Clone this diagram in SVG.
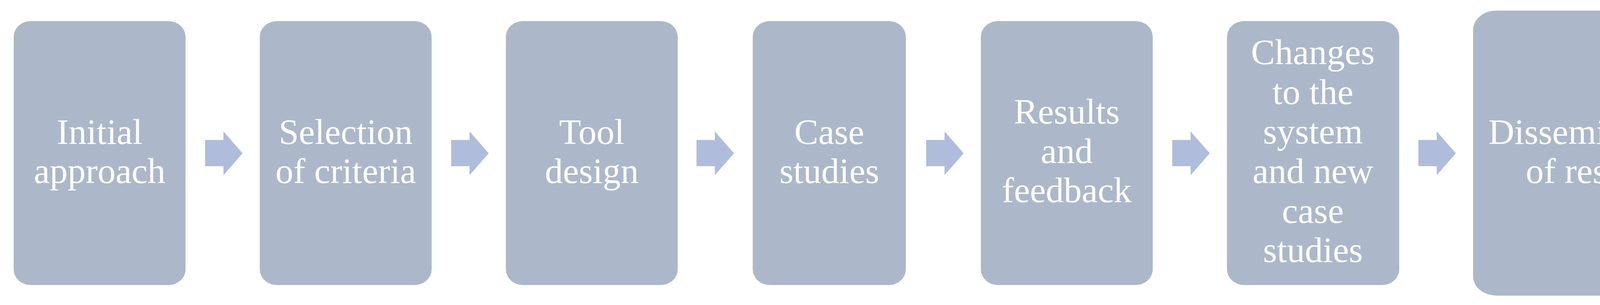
<svg xmlns="http://www.w3.org/2000/svg" width="4411" height="780" viewBox="0 0 4411 780">
<style>
.box{fill:#ACB8C9}
.arr{fill:#AFBCDC}
text{font-family:"Liberation Serif",serif;font-size:92px;fill:#fff;text-anchor:middle}
</style>
<rect width="4411" height="780" fill="#fff"/>
<g id="connectors">
<path class="arr" d="M525,358H572V336L621,392L572,448V425H525Z"/>
<path class="arr" d="M1155,358H1202V336L1251,392L1202,448V425H1155Z"/>
<path class="arr" d="M1783,358H1830V336L1879,392L1830,448V425H1783Z"/>
<path class="arr" d="M2371,358H2418V336L2467,392L2418,448V425H2371Z"/>
<path class="arr" d="M3001,358H3048V336L3097,392L3048,448V425H3001Z"/>
<path class="arr" d="M3631,358H3678V336L3727,392L3678,448V425H3631Z"/>
</g>
<g id="n1"><rect class="box" x="35" y="54" width="440" height="675" rx="44" ry="40"/><text x="255" y="368">Initial</text><text x="255" y="468">approach</text></g>
<g id="n2"><rect class="box" x="665" y="54" width="440" height="675" rx="44" ry="40"/><text x="885" y="368">Selection</text><text x="885" y="468">of criteria</text></g>
<g id="n3"><rect class="box" x="1295" y="54" width="440" height="675" rx="44" ry="40"/><text x="1515" y="368">Tool</text><text x="1515" y="468">design</text></g>
<g id="n4"><rect class="box" x="1927" y="54" width="392" height="675" rx="44" ry="40"/><text x="2123" y="368">Case</text><text x="2123" y="468">studies</text></g>
<g id="n5"><rect class="box" x="2511" y="54" width="440" height="675" rx="44" ry="40"/><text x="2731" y="316">Results</text><text x="2731" y="417">and</text><text x="2731" y="517">feedback</text></g>
<g id="n6"><rect class="box" x="3141" y="54" width="441" height="675" rx="44" ry="40"/><text x="3361" y="164">Changes</text><text x="3361" y="266">to the</text><text x="3361" y="367">system</text><text x="3361" y="468">and new</text><text x="3361" y="570">case</text><text x="3361" y="670">studies</text></g>
<g id="n7"><rect class="box" x="3771" y="27" width="611" height="729" rx="60" ry="50"/><text x="4076" y="368">Dissemination</text><text x="4076" y="468">of results</text></g>
</svg>
